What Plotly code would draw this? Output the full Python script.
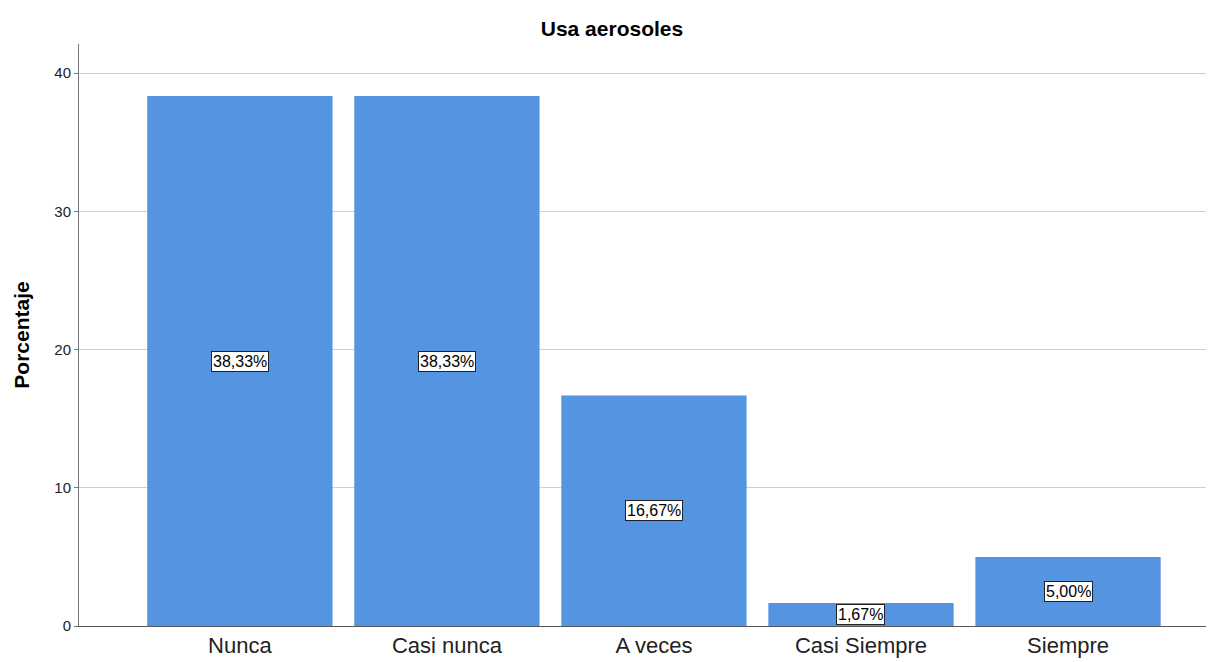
import plotly.graph_objects as go

categories = ["Nunca", "Casi nunca", "A veces", "Casi Siempre", "Siempre"]
values = [38.33, 38.33, 16.67, 1.67, 5.00]
labels = ["38,33%", "38,33%", "16,67%", "1,67%", "5,00%"]

fig = go.Figure()
fig.add_trace(go.Bar(x=list(range(len(categories))), y=values, marker=dict(color="#5594E0", line=dict(width=0)),
                     width=0.895, hoverinfo="skip"))

for i, (v, t) in enumerate(zip(values, labels)):
    fig.add_annotation(x=i, y=v / 2, text=t, showarrow=False,
                       font=dict(family="Arial, Liberation Sans", size=16, color="#000"),
                       bgcolor="white", bordercolor="#222", borderwidth=1, borderpad=1)

fig.update_layout(
    width=1214, height=662,
    margin=dict(l=71, r=8, t=36, b=44),
    paper_bgcolor="white", plot_bgcolor="white",
    title=dict(text="<b>Usa aerosoles</b>", x=0.4975, xanchor="center", y=0.969, yanchor="middle",
               font=dict(family="Arial, Liberation Sans", size=21, color="#000")),
    showlegend=False,
    xaxis=dict(range=[-0.777, 4.705], tickmode="array", tickvals=list(range(len(categories))),
               ticktext=categories, showgrid=False, zeroline=False, showline=True,
               linecolor="#555", linewidth=1, ticks="",
               tickfont=dict(family="Arial, Liberation Sans", size=22, color="#222")),
    yaxis=dict(range=[0, 42.1], tickvals=[0, 10, 20, 30, 40], showgrid=True, gridcolor="#cfcfcf",
               zeroline=False, showline=True, linecolor="#777", linewidth=1, ticks="outside",
               ticklen=4, tickcolor="#777",
               tickfont=dict(family="Arial, Liberation Sans", size=15, color="#222"),
               title=dict(text="<b>Porcentaje</b>", standoff=18,
                          font=dict(family="Arial, Liberation Sans", size=21, color="#000"))),
)

fig.write_html("out.html")
